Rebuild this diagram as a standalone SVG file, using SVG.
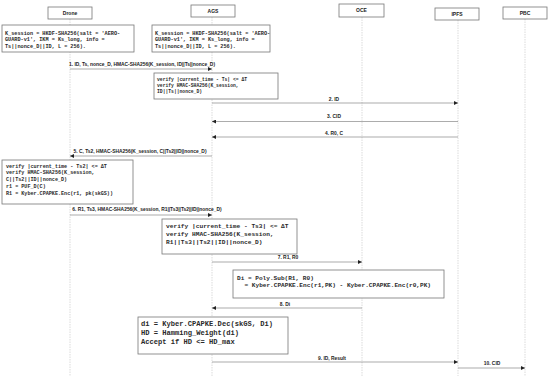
<svg xmlns="http://www.w3.org/2000/svg" width="550" height="380" viewBox="0 0 550 380">
<style>
.bg{fill:#fff}
.head{fill:#fff;stroke:#777;stroke-width:0.8}
.hl{font-family:"Liberation Sans",Arial,sans-serif;font-size:5px;font-weight:bold;fill:#222;text-anchor:middle}
.life{stroke:#ccc;stroke-width:0.7;stroke-dasharray:1.5,1}
.note{fill:#fff;stroke:#777;stroke-width:0.8}
.mono{font-family:"Liberation Mono","Courier New",monospace;font-weight:bold;fill:#2a2a2a}
.msg{stroke:#888;stroke-width:0.7;fill:none}
.lbl{font-family:"Liberation Sans",Arial,sans-serif;font-size:4.9px;font-weight:bold;fill:#222;text-anchor:middle}
</style>
<defs>
<marker id="ah" viewBox="0 0 6 6" refX="6" refY="3" markerWidth="4" markerHeight="4" orient="auto" markerUnits="userSpaceOnUse">
<path d="M0,0 L6,3 L0,6 z" fill="#222"/>
</marker>
</defs>
<rect class="bg" x="0" y="0" width="550" height="380"/>
<g id="lifelines">
<line class="life" x1="70" y1="19" x2="70" y2="376"/>
<line class="life" x1="212" y1="17" x2="212" y2="376"/>
<line class="life" x1="362" y1="17" x2="362" y2="376"/>
<line class="life" x1="458" y1="20" x2="458" y2="376"/>
<line class="life" x1="525" y1="19" x2="525" y2="376"/>
</g>
<g id="drone"><rect class="head" x="48" y="7" width="44" height="12"/><text class="hl" x="70" y="14.8">Drone</text></g>
<g id="ags"><rect class="head" x="191" y="5" width="44" height="12"/><text class="hl" x="213" y="12.8">AGS</text></g>
<g id="oce"><rect class="head" x="339" y="4" width="45" height="13"/><text class="hl" x="361.5" y="12.2">OCE</text></g>
<g id="ipfs"><rect class="head" x="435" y="8" width="44" height="12"/><text class="hl" x="457" y="15.8">IPFS</text></g>
<g id="pbc"><rect class="head" x="503" y="7" width="44" height="12"/><text class="hl" x="525" y="14.8">PBC</text></g>

<g id="note-drone-kdf">
<rect class="note" x="2" y="25" width="132" height="27"/>
<text class="mono" font-size="5.2" x="5" y="34.5">K_session = HKDF-SHA256(salt = 'AERO-</text>
<text class="mono" font-size="5.2" x="5" y="41">GUARD-v1', IKM = Ks_long, info =</text>
<text class="mono" font-size="5.2" x="5" y="47.5">Ts||nonce_D||ID, L = 256).</text>
</g>
<g id="note-ags-kdf">
<rect class="note" x="152" y="25" width="118" height="27"/>
<text class="mono" font-size="5.2" x="155" y="34.5">K_session = HKDF-SHA256(salt = 'AERO-</text>
<text class="mono" font-size="5.2" x="155" y="41">GUARD-v1', IKM = Ks_long, info =</text>
<text class="mono" font-size="5.2" x="155" y="47.5">Ts||nonce_D||ID, L = 256).</text>
</g>
<g id="note-ags-verify1">
<rect class="note" x="154" y="73" width="124" height="26"/>
<text class="mono" font-size="4.7" x="157" y="80.5">verify |current_time - Ts| &lt;= ΔT</text>
<text class="mono" font-size="4.7" x="157" y="86.5">verify HMAC-SHA256(K_session,</text>
<text class="mono" font-size="4.7" x="157" y="92.5">ID||Ts||nonce_D)</text>
</g>
<g id="note-drone-verify">
<rect class="note" x="2" y="160" width="131" height="44"/>
<text class="mono" font-size="5.1" x="6" y="167.5">verify |current_time - Ts2| &lt;= ΔT</text>
<text class="mono" font-size="5.1" x="6" y="174.2">verify HMAC-SHA256(K_session,</text>
<text class="mono" font-size="5.1" x="6" y="181">C||Ts2||ID||nonce_D)</text>
<text class="mono" font-size="5.1" x="6" y="187.8">r1 = PUF_D(C)</text>
<text class="mono" font-size="5.1" x="6" y="194.6">R1 = Kyber.CPAPKE.Enc(r1, pk(skGS))</text>
</g>
<g id="note-ags-verify2">
<rect class="note" x="162" y="219" width="135" height="35"/>
<text class="mono" font-size="6.2" x="166" y="227.5">verify |current_time - Ts3| &lt;= ΔT</text>
<text class="mono" font-size="6.2" x="166" y="235.8">verify HMAC-SHA256(K_session,</text>
<text class="mono" font-size="6.2" x="166" y="244.1">R1||Ts3||Ts2||ID||nonce_D)</text>
</g>
<g id="note-oce">
<rect class="note" x="233" y="270" width="211" height="28"/>
<text class="mono" font-size="6.1" x="237" y="279.5">Di = Poly.Sub(R1, R0)</text>
<text class="mono" font-size="6.1" x="244.5" y="287">= Kyber.CPAPKE.Enc(r1,PK) - Kyber.CPAPKE.Enc(r0,PK)</text>
</g>
<g id="note-ags-decide">
<rect class="note" x="138" y="317" width="150" height="37"/>
<text class="mono" font-size="7.1" x="141" y="326">di = Kyber.CPAPKE.Dec(skGS, Di)</text>
<text class="mono" font-size="7.1" x="141" y="335">HD = Hamming_Weight(di)</text>
<text class="mono" font-size="7.1" x="141" y="344">Accept if HD &lt;= HD_max</text>
</g>

<g id="connectors">
<line class="msg" x1="70" y1="69" x2="212" y2="69" marker-end="url(#ah)"/>
<text class="lbl" x="142" y="65.5">1. ID, Ts, nonce_D, HMAC-SHA256(K_session, ID||Ts||nonce_D)</text>
<line class="msg" x1="212" y1="103" x2="458" y2="103" marker-end="url(#ah)"/>
<text class="lbl" x="334" y="100.5">2. ID</text>
<line class="msg" x1="458" y1="121.5" x2="212" y2="121.5" marker-end="url(#ah)"/>
<text class="lbl" x="334" y="118">3. CID</text>
<line class="msg" x1="458" y1="137" x2="212" y2="137" marker-end="url(#ah)"/>
<text class="lbl" x="334" y="134.5">4. R0, C</text>
<line class="msg" x1="212" y1="156" x2="70" y2="156" marker-end="url(#ah)"/>
<text class="lbl" x="140" y="153">5. C, Ts2, HMAC-SHA256(K_session, C||Ts2||ID||nonce_D)</text>
<line class="msg" x1="70" y1="215" x2="212" y2="215" marker-end="url(#ah)"/>
<text class="lbl" x="147" y="211">6. R1, Ts3, HMAC-SHA256(K_session, R1||Ts3||Ts2||ID||nonce_D)</text>
<line class="msg" x1="212" y1="262" x2="362" y2="262" marker-end="url(#ah)"/>
<text class="lbl" x="288" y="259">7. R1, R0</text>
<line class="msg" x1="362" y1="308" x2="212" y2="308" marker-end="url(#ah)"/>
<text class="lbl" x="285" y="305.5">8. Di</text>
<line class="msg" x1="212" y1="362" x2="458" y2="362" marker-end="url(#ah)"/>
<text class="lbl" x="332" y="359.5">9. ID, Result</text>
<line class="msg" x1="458" y1="368" x2="525" y2="368" marker-end="url(#ah)"/>
<text class="lbl" x="492" y="365">10. CID</text>
</g>
</svg>
